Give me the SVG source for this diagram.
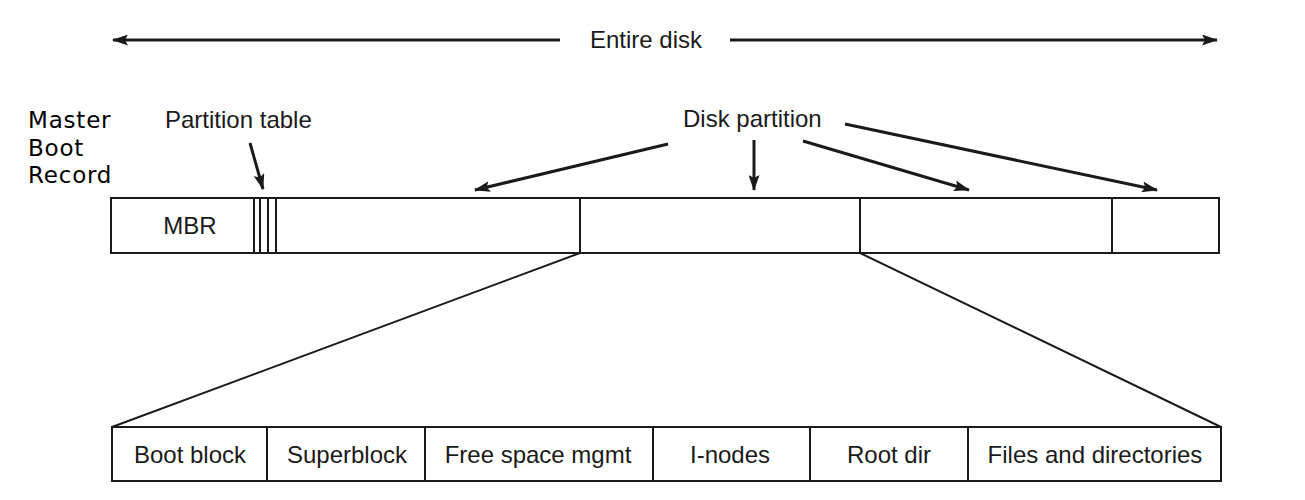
<svg xmlns="http://www.w3.org/2000/svg" width="1305" height="500" viewBox="0 0 1305 500">
<style>
.t{font-family:"Liberation Sans",Arial,sans-serif;font-size:24px;fill:#1a1a1a}
.c{text-anchor:middle}
.m{font-family:"DejaVu Sans",sans-serif;font-size:23px;letter-spacing:0.8px;fill:#000}
.box{fill:#fff;stroke:#1a1a1a;stroke-width:2}
.ln{stroke:#1a1a1a;stroke-width:2;fill:none}
.ar{stroke:#1a1a1a;stroke-width:3;fill:none;marker-end:url(#ah)}
</style>
<defs>
<marker id="ah" viewBox="0 0 16 11" refX="15" refY="5.5" markerWidth="16" markerHeight="11" markerUnits="userSpaceOnUse" orient="auto-start-reverse">
<path d="M0,0 L16,5.5 L0,11 L3,5.5 Z" fill="#1a1a1a"/>
</marker>
</defs>
<rect width="1305" height="500" fill="#fff"/>
<g id="mbr-label">
<text class="m" x="28" y="128">Master</text>
<text class="m" x="28" y="156">Boot</text>
<text class="m" x="28" y="183">Record</text>
</g>
<g id="entire-disk">
<text class="t c" x="646" y="48">Entire disk</text>
</g>
<g id="partition-table-label">
<text class="t" x="165" y="128">Partition table</text>
</g>
<g id="disk-partition-label">
<text class="t" x="683" y="127">Disk partition</text>
</g>
<g id="disk">
<rect class="box" x="111" y="198" width="1108" height="55"/>
<line class="ln" x1="254" y1="198" x2="254" y2="253"/>
<line class="ln" x1="260" y1="198" x2="260" y2="253"/>
<line class="ln" x1="268" y1="198" x2="268" y2="253"/>
<line class="ln" x1="276" y1="198" x2="276" y2="253"/>
<line class="ln" x1="580" y1="198" x2="580" y2="253"/>
<line class="ln" x1="860" y1="198" x2="860" y2="253"/>
<line class="ln" x1="1112" y1="198" x2="1112" y2="253"/>
<text class="t c" x="190" y="234">MBR</text>
</g>
<g id="partition-detail">
<rect class="box" x="112" y="427" width="1109" height="54"/>
<line class="ln" x1="267" y1="427" x2="267" y2="481"/>
<line class="ln" x1="425" y1="427" x2="425" y2="481"/>
<line class="ln" x1="653" y1="427" x2="653" y2="481"/>
<line class="ln" x1="810" y1="427" x2="810" y2="481"/>
<line class="ln" x1="968" y1="427" x2="968" y2="481"/>
<text class="t c" x="190" y="463">Boot block</text>
<text class="t c" x="347" y="463">Superblock</text>
<text class="t c" x="538" y="463">Free space mgmt</text>
<text class="t c" x="730" y="463">I-nodes</text>
<text class="t c" x="889" y="463">Root dir</text>
<text class="t c" x="1095" y="463">Files and directories</text>
</g>
<g id="connectors">
<line class="ar" x1="560" y1="40" x2="113" y2="40"/>
<line class="ar" x1="730" y1="40" x2="1217" y2="40"/>
<line class="ar" x1="250" y1="143" x2="263" y2="189"/>
<line class="ar" x1="668" y1="144" x2="475" y2="190"/>
<line class="ar" x1="754" y1="140" x2="754" y2="190"/>
<line class="ar" x1="803" y1="141" x2="969" y2="190"/>
<line class="ar" x1="845" y1="124" x2="1157" y2="190"/>
<line class="ln" x1="580" y1="253" x2="112" y2="427"/>
<line class="ln" x1="860" y1="253" x2="1221" y2="427"/>
</g>
</svg>
